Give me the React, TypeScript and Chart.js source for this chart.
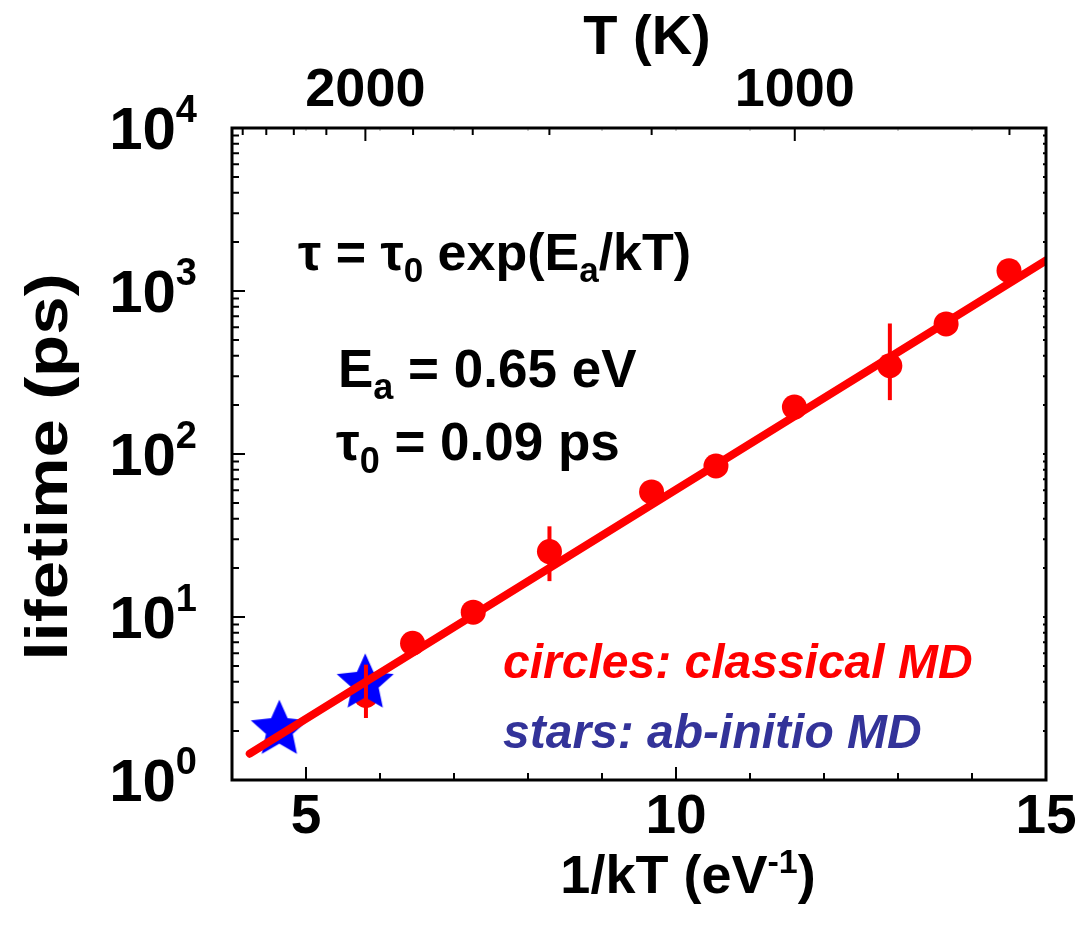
import React, { useEffect, useRef } from 'react';
import { Chart, registerables } from 'chart.js';

Chart.register(...registerables);

// Boltzmann constant (eV/K), used to place the top temperature axis
const K_B = 8.617e-5;

// classical MD (red circles): x = 1/kT (eV^-1), y = lifetime (ps)
const circleX = [5.81, 6.44, 7.26, 8.29, 9.67, 10.54, 11.6, 12.89, 13.65, 14.5];
const circleY = [3.3, 6.9, 10.7, 25.2, 58.5, 84.4, 194, 348, 628, 1333];
const circleErrLow = [2.4, null, null, 16.6, null, null, null, 214, null, null];
const circleErrHigh = [5.1, null, null, 36, null, null, null, 632, null, null];

// ab-initio MD (blue stars)
const starX = [4.64, 5.8];
const starY = [2.08, 4.0];

// Arrhenius fit line end points
const fitX = [4.24, 15.0];
const fitY = [1.45, 1540];

// axes
const xMin = 4;
const xMax = 15;
const yMin = 1;
const yMax = 10000;
const xMajorTicks = [5, 10, 15];
const xMinorTicks = [6, 7, 8, 9, 11, 12, 13, 14];
const yDecades = [0, 1, 2, 3, 4];
const yMinorMult = [2, 3, 4, 5, 6, 7, 8, 9];
const topMajorT = [2000, 1000];
const topMinorT = [2800, 2600, 2400, 2200, 1800, 1600, 1400, 1200, 800];

const FONT = '"Liberation Sans", Arial, Helvetica, sans-serif';
const RED = '#ff0000';
const BLUE = '#0000ff';
const NAVY = '#333399';

function makeStar(R: number, color: string) {
  const s = Math.ceil(R * 2 + 4);
  const c = document.createElement('canvas');
  c.width = s;
  c.height = s;
  const g = c.getContext('2d')!;
  const cx = s / 2;
  const cy = s / 2 + R * 0.05;
  g.beginPath();
  for (let i = 0; i < 10; i++) {
    const r = i % 2 === 0 ? R : R * 0.47;
    const a = -Math.PI / 2 + (i * Math.PI) / 5;
    const px = cx + r * Math.cos(a);
    const py = cy + r * Math.sin(a);
    if (i === 0) g.moveTo(px, py);
    else g.lineTo(px, py);
  }
  g.closePath();
  g.fillStyle = color;
  g.fill();
  return c;
}

type Run = { t: string; size: number; dy?: number };

function drawRuns(
  ctx: CanvasRenderingContext2D,
  x: number,
  y: number,
  runs: Run[],
  style: string,
  color: string,
  align: 'left' | 'right' | 'center' = 'left'
) {
  ctx.save();
  ctx.fillStyle = color;
  ctx.textAlign = 'left';
  ctx.textBaseline = 'alphabetic';
  let total = 0;
  const widths = runs.map((r) => {
    ctx.font = `${style} ${r.size}px ${FONT}`;
    const w = ctx.measureText(r.t).width;
    total += w;
    return w;
  });
  let cx = x;
  if (align === 'right') cx = x - total;
  if (align === 'center') cx = x - total / 2;
  runs.forEach((r, i) => {
    ctx.font = `${style} ${r.size}px ${FONT}`;
    ctx.fillText(r.t, cx, y + (r.dy || 0));
    cx += widths[i];
  });
  ctx.restore();
}

const decorPlugin = {
  id: 'decor',
  afterDatasetsDraw(chart: any) {
    const ctx: CanvasRenderingContext2D = chart.ctx;
    const xs = chart.scales.x;
    const ys = chart.scales.y;
    // error bars
    ctx.save();
    ctx.strokeStyle = RED;
    ctx.lineWidth = 4;
    circleX.forEach((xv, i) => {
      const lo = circleErrLow[i];
      const hi = circleErrHigh[i];
      if (lo == null || hi == null) return;
      const px = xs.getPixelForValue(xv);
      ctx.beginPath();
      ctx.moveTo(px, ys.getPixelForValue(lo));
      ctx.lineTo(px, ys.getPixelForValue(hi));
      ctx.stroke();
    });
    ctx.restore();
  },
  afterDraw(chart: any) {
    const ctx: CanvasRenderingContext2D = chart.ctx;
    const xs = chart.scales.x;
    const ys = chart.scales.y;
    const a = chart.chartArea;
    ctx.save();
    ctx.strokeStyle = '#000';
    // ticks
    const major = 13;
    const minor = 7;
    ctx.lineWidth = 2;
    ctx.beginPath();
    xMajorTicks.forEach((v) => {
      const px = xs.getPixelForValue(v);
      ctx.moveTo(px, a.bottom);
      ctx.lineTo(px, a.bottom - major);
    });
    xMinorTicks.forEach((v) => {
      const px = xs.getPixelForValue(v);
      ctx.moveTo(px, a.bottom);
      ctx.lineTo(px, a.bottom - minor);
    });
    topMajorT.forEach((T) => {
      const px = xs.getPixelForValue(1 / (K_B * T));
      ctx.moveTo(px, a.top);
      ctx.lineTo(px, a.top + major);
    });
    topMinorT.forEach((T) => {
      const px = xs.getPixelForValue(1 / (K_B * T));
      ctx.moveTo(px, a.top);
      ctx.lineTo(px, a.top + minor);
    });
    yDecades.forEach((d) => {
      const py = ys.getPixelForValue(Math.pow(10, d));
      ctx.moveTo(a.left, py);
      ctx.lineTo(a.left + major, py);
      ctx.moveTo(a.right, py);
      ctx.lineTo(a.right - 3, py);
      if (d < yDecades[yDecades.length - 1]) {
        yMinorMult.forEach((m) => {
          const pm = ys.getPixelForValue(m * Math.pow(10, d));
          ctx.moveTo(a.left, pm);
          ctx.lineTo(a.left + minor, pm);
          ctx.moveTo(a.right, pm);
          ctx.lineTo(a.right - 3, pm);
        });
      }
    });
    ctx.stroke();
    // faint mirrored minor ticks on top
    ctx.lineWidth = 1;
    ctx.strokeStyle = '#999';
    ctx.beginPath();
    [...xMajorTicks, ...xMinorTicks].forEach((v) => {
      const px = xs.getPixelForValue(v);
      ctx.moveTo(px, a.top);
      ctx.lineTo(px, a.top + 3);
    });
    ctx.stroke();
    // frame
    ctx.strokeStyle = '#000';
    ctx.lineWidth = 3;
    ctx.strokeRect(a.left, a.top, a.right - a.left, a.bottom - a.top);
    ctx.restore();

    // bottom tick labels
    xMajorTicks.forEach((v) => {
      drawRuns(ctx, xs.getPixelForValue(v), 833, [{ t: String(v), size: 55 }], 'bold', '#000', 'center');
    });
    // top tick labels
    topMajorT.forEach((T) => {
      drawRuns(ctx, xs.getPixelForValue(1 / (K_B * T)), 106, [{ t: String(T), size: 54 }], 'bold', '#000', 'center');
    });
    // y tick labels
    yDecades.forEach((d) => {
      const py = ys.getPixelForValue(Math.pow(10, d));
      drawRuns(
        ctx,
        197,
        py + 21,
        [
          { t: '10', size: 60 },
          { t: String(d), size: 38, dy: -27 },
        ],
        'bold',
        '#000',
        'right'
      );
    });
    // axis titles
    drawRuns(ctx, 647, 54, [{ t: 'T (K)', size: 56 }], 'bold', '#000', 'center');
    drawRuns(
      ctx,
      688,
      893,
      [
        { t: '1/kT (eV', size: 54 },
        { t: '-1', size: 34, dy: -20 },
        { t: ')', size: 54 },
      ],
      'bold',
      '#000',
      'center'
    );
    ctx.save();
    ctx.translate(67, 467);
    ctx.rotate(-Math.PI / 2);
    ctx.scale(1, 0.85);
    drawRuns(ctx, 0, 0, [{ t: 'lifetime (ps)', size: 69 }], 'bold', '#000', 'center');
    ctx.restore();

    // annotations
    drawRuns(
      ctx,
      298,
      270,
      [
        { t: '\u03C4 = \u03C4', size: 52 },
        { t: '0', size: 35, dy: 12 },
        { t: ' exp(E', size: 52 },
        { t: 'a', size: 35, dy: 12 },
        { t: '/kT)', size: 52 },
      ],
      'bold',
      '#000'
    );
    drawRuns(
      ctx,
      338,
      387,
      [
        { t: 'E', size: 53 },
        { t: 'a', size: 36, dy: 12 },
        { t: ' = 0.65 eV', size: 53 },
      ],
      'bold',
      '#000'
    );
    drawRuns(
      ctx,
      336,
      460,
      [
        { t: '\u03C4', size: 53 },
        { t: '0', size: 36, dy: 13 },
        { t: ' = 0.09 ps', size: 53 },
      ],
      'bold',
      '#000'
    );
    drawRuns(ctx, 503, 678, [{ t: 'circles: classical MD', size: 48 }], 'italic bold', RED);
    drawRuns(ctx, 503, 748, [{ t: 'stars: ab-initio MD', size: 48 }], 'italic bold', NAVY);
  },
};

export default function App() {
  const ref = useRef<HTMLCanvasElement | null>(null);
  useEffect(() => {
    if (!ref.current) return;
    const star = makeStar(30, BLUE);
    const chart = new Chart(ref.current, {
      type: 'scatter',
      data: {
        datasets: [
          {
            label: 'fit',
            type: 'line',
            data: fitX.map((x, i) => ({ x, y: fitY[i] })),
            borderColor: RED,
            borderWidth: 8,
            borderCapStyle: 'round',
            pointRadius: 0,
            showLine: true,
            fill: false,
            order: 1,
          } as any,
          {
            label: 'ab-initio MD',
            data: starX.map((x, i) => ({ x, y: starY[i] })),
            pointStyle: star as any,
            pointRadius: 30,
            order: 2,
          },
          {
            label: 'classical MD',
            data: circleX.map((x, i) => ({ x, y: circleY[i] })),
            pointStyle: 'circle',
            pointRadius: 12.5,
            backgroundColor: RED,
            borderColor: RED,
            borderWidth: 0,
            order: 3,
          },
        ],
      },
      options: {
        responsive: false,
        animation: false,
        devicePixelRatio: 1,
        layout: { padding: { left: 232, top: 128, right: 28, bottom: 150 } },
        plugins: { legend: { display: false }, tooltip: { enabled: false } },
        scales: {
          x: { type: 'linear', min: xMin, max: xMax, display: false },
          y: { type: 'logarithmic', min: yMin, max: yMax, display: false },
        },
      },
      plugins: [decorPlugin],
    });
    return () => chart.destroy();
  }, []);
  return (
    <div style={{ position: 'fixed', left: 0, top: 0, width: 1077, height: 930, background: '#fff' }}>
      <canvas ref={ref} width={1077} height={930} style={{ width: 1077, height: 930, display: 'block' }} />
    </div>
  );
}
